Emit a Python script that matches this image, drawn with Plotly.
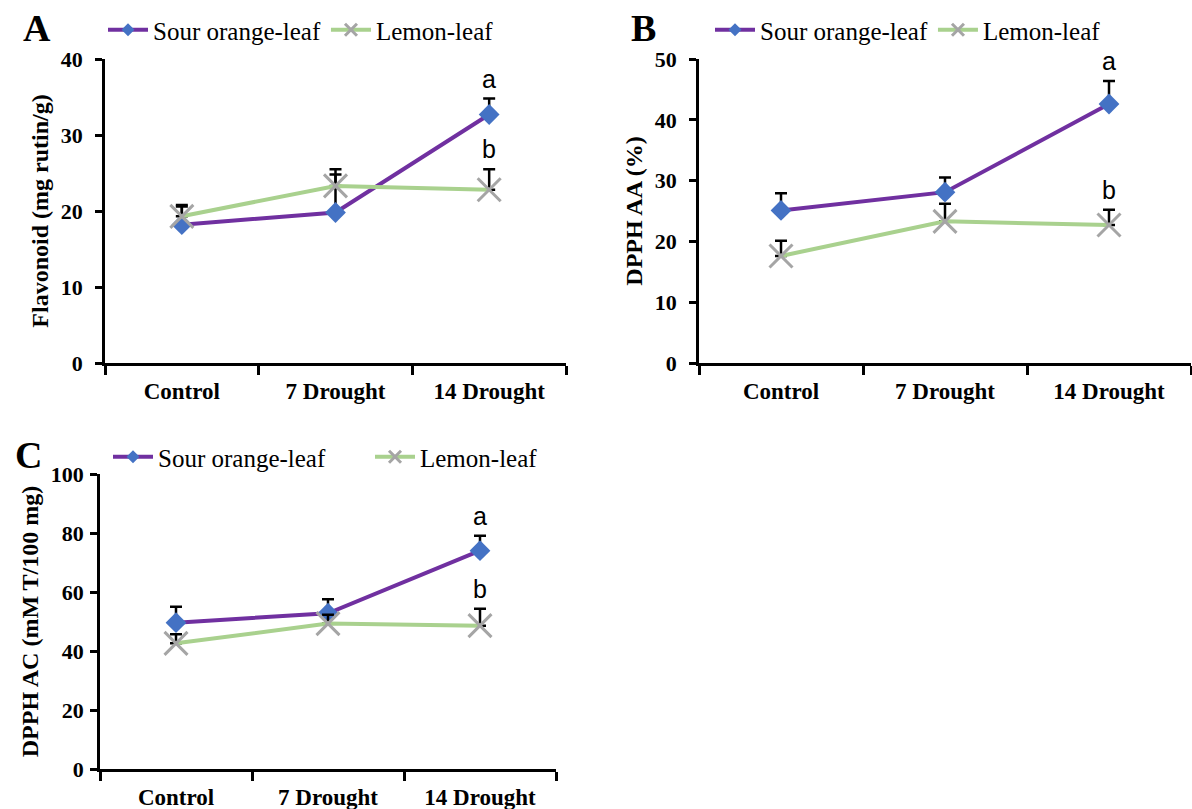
import plotly.graph_objects as go

categories = ["Control", "7 Drought", "14 Drought"]

# Panel A: Flavonoid (mg rutin/g)
flav_sour = [18.2, 19.8, 32.7]
flav_sour_err = [2.4, 5.7, 2.1]
flav_lemon = [19.3, 23.3, 22.8]
flav_lemon_err = [1.5, 1.5, 2.7]

# Panel B: DPPH AA (%)
aa_sour = [25.1, 28.1, 42.6]
aa_sour_err = [2.8, 2.4, 3.8]
aa_lemon = [17.6, 23.3, 22.7]
aa_lemon_err = [2.5, 2.9, 2.5]

# Panel C: DPPH AC (mM T/100 mg)
ac_sour = [49.6, 52.8, 74.0]
ac_sour_err = [5.4, 4.7, 5.1]
ac_lemon = [42.6, 49.3, 48.6]
ac_lemon_err = [3.1, 3.0, 5.7]

letters_top = ["a", "a", "a"]
letters_bottom = ["b", "b", "b"]

PURPLE = "#7030A0"
BLUE = "#4472C4"
GREEN = "#A9D18E"
GREY = "#A5A5A5"
SERIF = "Liberation Serif"

W, H = 1192, 809
def px_x(p): return p / W
def px_y(p): return 1 - p / H

fig = go.Figure()

panels = [
    dict(x="x", y="y", leg="legend", sour=flav_sour, se=flav_sour_err, lem=flav_lemon, le=flav_lemon_err),
    dict(x="x2", y="y2", leg="legend2", sour=aa_sour, se=aa_sour_err, lem=aa_lemon, le=aa_lemon_err),
    dict(x="x3", y="y3", leg="legend3", sour=ac_sour, se=ac_sour_err, lem=ac_lemon, le=ac_lemon_err),
]

for p in panels:
    fig.add_trace(go.Scatter(
        x=categories, y=p["sour"], xaxis=p["x"], yaxis=p["y"], showlegend=False,
        name="Sour orange-leaf", mode="lines+markers",
        line=dict(color=PURPLE, width=4),
        marker=dict(symbol="diamond", size=16, color=BLUE),
        error_y=dict(type="data", array=p["se"], arrayminus=[0, 0, 0], symmetric=False,
                     color="black", thickness=2.5, width=6),
    ))
    fig.add_trace(go.Scatter(
        x=categories, y=p["lem"], xaxis=p["x"], yaxis=p["y"], showlegend=False,
        name="Lemon-leaf", mode="lines+markers",
        line=dict(color=GREEN, width=4),
        marker=dict(symbol="x-thin", size=23, color=GREY, line=dict(color=GREY, width=3)),
        error_y=dict(type="data", array=p["le"], arrayminus=[0, 0, 0], symmetric=False,
                     color="black", thickness=2.5, width=6),
    ))
    # legend entries (smaller markers as in the reference legend)
    fig.add_trace(go.Scatter(
        x=[None], y=[None], xaxis=p["x"], yaxis=p["y"], legend=p["leg"],
        name="Sour orange-leaf", mode="lines+markers",
        line=dict(color=PURPLE, width=4),
        marker=dict(symbol="diamond", size=10, color=BLUE),
    ))
    fig.add_trace(go.Scatter(
        x=[None], y=[None], xaxis=p["x"], yaxis=p["y"], legend=p["leg"],
        name="Lemon-leaf", mode="lines+markers",
        line=dict(color=GREEN, width=4),
        marker=dict(symbol="x-thin", size=12, color=GREY, line=dict(color=GREY, width=3)),
    ))

xdom = [(105, 566), (699, 1191), (100, 556)]
ydom = [(59, 363), (59, 363), (474, 769)]
yranges = [(0, 40, 10), (0, 50, 10), (0, 100, 20)]
ytitles = ["Flavonoid (mg rutin/g)", "DPPH AA (%)", "DPPH AC (mM T/100 mg)"]

axis_common = dict(showline=True, linecolor="black", linewidth=2.5, ticks="outside",
                   tickcolor="black", tickwidth=2.5, showgrid=False, zeroline=False,
                   automargin=False)

for i in range(3):
    sx = "" if i == 0 else str(i + 1)
    fig.layout["xaxis" + sx] = dict(
        domain=[px_x(xdom[i][0]), px_x(xdom[i][1])], anchor="y" + sx,
        type="category", tickson="boundaries", ticklen=9, range=[-0.5, 2.5],
        ticklabelstandoff=6,
        tickfont=dict(family=SERIF, size=23, color="black", weight="bold"),
        **axis_common)
    fig.layout["yaxis" + sx] = dict(
        domain=[px_y(ydom[i][1]), px_y(ydom[i][0])], anchor="x" + sx,
        range=[yranges[i][0], yranges[i][1]], dtick=yranges[i][2], ticklen=7,
        ticklabelstandoff=8 if i < 2 else 2,
        tickfont=dict(family=SERIF, size=22, color="black", weight="bold"),
        title=dict(text="<b>" + ytitles[i] + "</b>", font=dict(family=SERIF, size=24, color="black"),
                   standoff=6),
        **axis_common)

legend_pos = [(103, 30), (710, 30), (108, 457)]
entry_w = [None, None, 207]
for i, (lx, ly) in enumerate(legend_pos):
    key = "legend" if i == 0 else "legend" + str(i + 1)
    d = dict(orientation="h", x=px_x(lx), y=px_y(ly), xanchor="left", yanchor="middle",
             font=dict(family=SERIF, size=25, color="black"),
             bgcolor="rgba(0,0,0,0)", itemwidth=40, tracegroupgap=0)
    if entry_w[i]:
        d["entrywidth"] = entry_w[i]
    fig.layout[key] = d

annotations = []
panel_labels = [("A", 37, 28), ("B", 643, 28), ("C", 28, 455)]
for t, x, y in panel_labels:
    annotations.append(dict(text="<b>" + t + "</b>", x=px_x(x), y=px_y(y), xref="paper", yref="paper",
                            xanchor="center", yanchor="middle",
                            showarrow=False, font=dict(family=SERIF, size=38, color="black")))

tops = [(flav_sour, flav_sour_err), (aa_sour, aa_sour_err), (ac_sour, ac_sour_err)]
bots = [(flav_lemon, flav_lemon_err), (aa_lemon, aa_lemon_err), (ac_lemon, ac_lemon_err)]
for i in range(3):
    sx = "" if i == 0 else str(i + 1)
    s, se = tops[i]
    l, le = bots[i]
    annotations.append(dict(text=letters_top[i], x=categories[2], y=s[2] + se[2], xref="x" + sx, yref="y" + sx,
                            yanchor="bottom", yshift=4, showarrow=False,
                            font=dict(family="Liberation Sans", size=25, color="black")))
    annotations.append(dict(text=letters_bottom[i], x=categories[2], y=l[2] + le[2], xref="x" + sx, yref="y" + sx,
                            yanchor="bottom", yshift=4, showarrow=False,
                            font=dict(family="Liberation Sans", size=25, color="black")))

fig.update_layout(width=W, height=H, margin=dict(l=0, r=0, t=0, b=0, autoexpand=False),
                  paper_bgcolor="white", plot_bgcolor="white", annotations=annotations,
                  showlegend=True)

fig.write_html("out.html", config={"displayModeBar": False},
               post_script="document.body.style.margin='0';document.body.style.overflow='hidden';")
